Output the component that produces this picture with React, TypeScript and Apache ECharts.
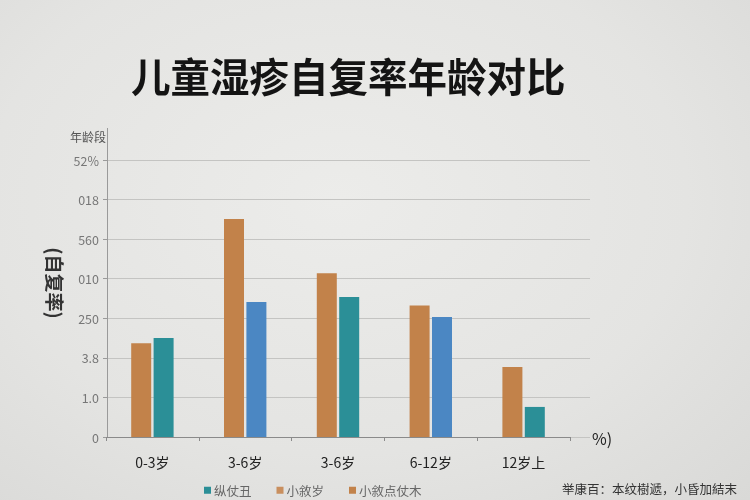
import React, { useEffect, useRef } from "react";
import * as echarts from "echarts";

const categories = ["0-3岁", "3-6岁", "3-6岁", "6-12岁", "12岁上"];
const orangeValues = [2.37, 5.51, 4.14, 3.32, 1.77];
const secondValues = [2.5, 3.41, 3.54, 3.03, 0.76];
const secondColors = ["#2B8F97", "#4B87C3", "#2B8F97", "#4B87C3", "#2B8F97"];
const yTickLabels = ["0", "1.0", "3.8", "250", "010", "560", "018", "52%"];
const legendNames = ["纵仗丑", "小敘岁", "小敘点仗木"];

const FONT = "'Noto Sans CJK SC', 'Noto Sans', sans-serif";

export default function App() {
  const ref = useRef<HTMLDivElement>(null);
  useEffect(() => {
    if (!ref.current) return;
    const chart = echarts.init(ref.current, undefined, { renderer: "svg" });
    chart.setOption({
      animation: false,
      textStyle: { fontFamily: FONT },
      title: {
        text: "儿童湿疹自复率年龄对比",
        left: 126,
        top: 50,
        textStyle: { fontSize: 39.5, fontWeight: "bold", color: "#141414", fontFamily: FONT },
      },
      legend: {
        data: legendNames,
        left: 204,
        top: 484,
        padding: 0,
        icon: "rect",
        itemWidth: 7,
        itemHeight: 7,
        itemGap: 25,
        textStyle: { fontSize: 12.5, color: "#666", fontFamily: FONT, padding: [0, 0, 0, -2] },
      },
      grid: [
        { left: 107, right: 160, top: 160, bottom: 63 },
        { left: 106, right: 180, top: 160, bottom: 63 },
      ],
      xAxis: [
        { type: "category", gridIndex: 0, data: categories, show: false },
        {
          type: "category",
          gridIndex: 1,
          data: categories,
          axisLine: { lineStyle: { color: "#8a8a8a", width: 1.2 } },
          axisTick: { show: true, length: 4, lineStyle: { color: "#8a8a8a" } },
          axisLabel: { margin: 18, fontSize: 14, color: "#222", fontFamily: FONT },
        },
      ],
      yAxis: [
        {
          type: "value",
          gridIndex: 0,
          min: 0,
          max: 7,
          interval: 1,
          axisLine: { show: true, lineStyle: { color: "#9a9a9a" } },
          axisTick: { show: true, length: 4, lineStyle: { color: "#9a9a9a" } },
          axisLabel: {
            margin: 8,
            fontSize: 12.5,
            color: "#777",
            fontFamily: FONT,
            formatter: (v: number) => yTickLabels[Math.round(v)] ?? "",
          },
          splitLine: { lineStyle: { color: "#c4c4c2", width: 1 } },
        },
        { type: "value", gridIndex: 1, min: 0, max: 7, interval: 1, show: false, splitLine: { show: false } },
      ],
      graphic: [
        { type: "line", shape: { x1: 107.5, y1: 128, x2: 107.5, y2: 160 }, style: { stroke: "#9a9a9a", lineWidth: 1 } },
        { type: "text", left: 70, top: 130, style: { text: "年龄段", fontSize: 12, fill: "#555", fontFamily: FONT } },
        {
          type: "text",
          x: 55,
          y: 283,
          rotation: -Math.PI / 2,
          style: { text: "(自复率)", fontSize: 19, fontWeight: "bold", fill: "#333", fontFamily: FONT, align: "center", verticalAlign: "middle" },
        },
        { type: "text", left: 592, top: 430, style: { text: "%)", fontSize: 16, fill: "#222", fontFamily: FONT } },
        { type: "text", left: 562, top: 482, style: { text: "举康百：本纹樹遞，小昏加結末", fontSize: 12.5, fill: "#333", fontFamily: FONT } },
      ],
      series: [
        {
          name: legendNames[2],
          type: "bar",
          xAxisIndex: 1,
          yAxisIndex: 1,
          barWidth: 20,
          barGap: "12%",
          itemStyle: { color: "#C2824A" },
          data: orangeValues,
        },
        {
          name: legendNames[0],
          type: "bar",
          xAxisIndex: 1,
          yAxisIndex: 1,
          barWidth: 20,
          barGap: "12%",
          itemStyle: { color: "#2B8F97" },
          data: secondValues.map((v, i) => ({ value: v, itemStyle: { color: secondColors[i] } })),
        },
        {
          name: legendNames[1],
          type: "line",
          xAxisIndex: 0,
          yAxisIndex: 0,
          itemStyle: { color: "#C98F5E" },
          data: [],
        },
      ],
    });
    return () => chart.dispose();
  }, []);
  return (
    <div
      style={{
        position: "fixed",
        left: 0,
        top: 0,
        width: 750,
        height: 500,
        background: "radial-gradient(ellipse at 45% 40%, #ececea 0%, #e4e4e2 60%, #d9d9d7 100%)",
      }}
    >
      <div ref={ref} style={{ width: 750, height: 500 }} />
    </div>
  );
}
